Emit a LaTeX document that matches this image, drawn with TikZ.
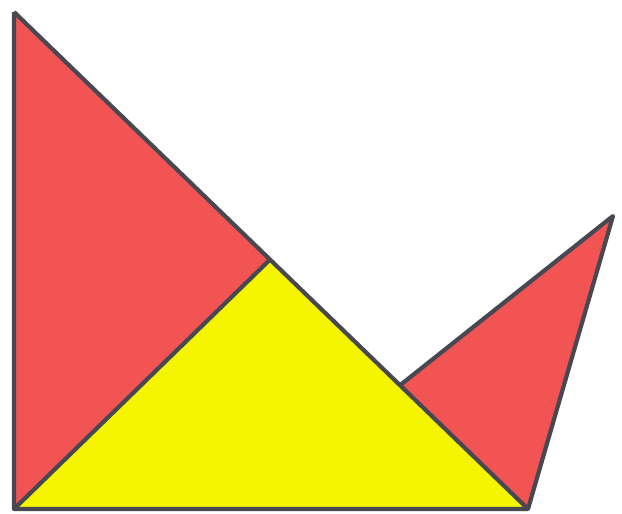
\documentclass[tikz,border=0pt]{standalone}
\usetikzlibrary{calc}
\definecolor{tred}{RGB}{242,84,84}
\definecolor{tyel}{RGB}{245,245,0}
\definecolor{tline}{RGB}{72,72,82}
\tikzset{piece/.style={draw=tline, line width=4.2pt, line join=round}}
\begin{document}
\begin{tikzpicture}[x=1pt,y=-1pt]
\useasboundingbox (0,0) rectangle (622,514);
\coordinate (tl) at (14,12);
\coordinate (bl) at (14,509);
\coordinate (br) at (528,509);
\coordinate (m) at ($(tl)!0.4981!(br)$);
\coordinate (sl) at ($(tl)!0.751!(br)$);
\coordinate (tip) at (613,216);
\fill[tred] (tl) -- (bl) -- (m) -- cycle;
\fill[tyel] (bl) -- (m) -- (br) -- cycle;
\fill[tred] (sl) -- (tip) -- (br) -- cycle;
\draw[piece] (tl) -- (bl) -- (br) -- (tip) -- (sl);
\draw[piece] (tl) -- (br);
\draw[piece] (bl) -- (m);
\end{tikzpicture}
\end{document}
